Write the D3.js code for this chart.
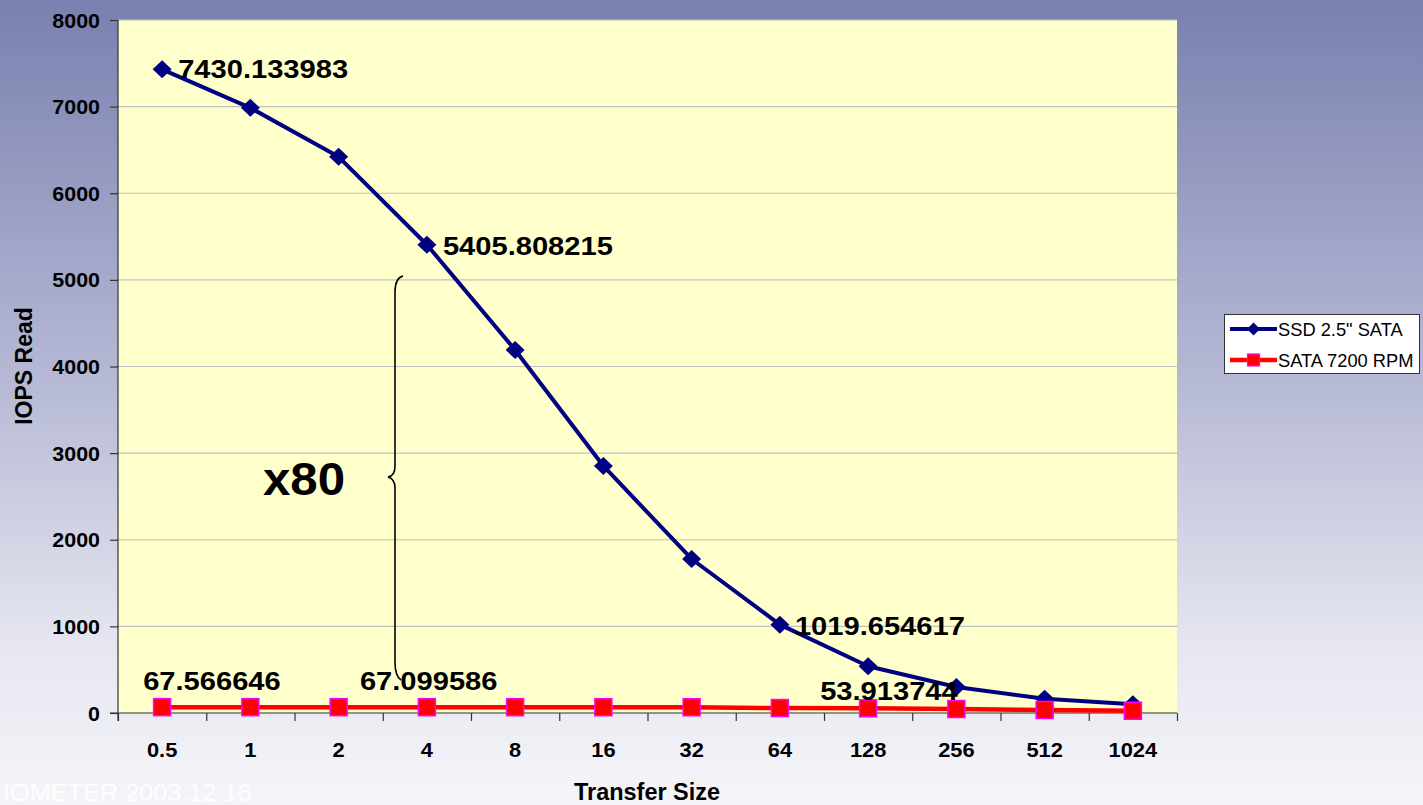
<!DOCTYPE html>
<html>
<head>
<meta charset="utf-8">
<script src="https://cdn.jsdelivr.net/npm/d3@7"></script>
<style>
  html, body { margin: 0; padding: 0; overflow: hidden; }
  svg { display: block; }
  text { font-family: "Liberation Sans", Arial, Helvetica, sans-serif; }
</style>
</head>
<body>
<svg id="chart" width="1423" height="805"></svg>
<script>
// Transfer sizes (KB) on the category axis
const categories = ["0.5", "1", "2", "4", "8", "16", "32", "64", "128", "256", "512", "1024"];

// IOPS read per transfer size
const ssdValues  = [7430.133983, 6986, 6420, 5405.808215, 4191, 2852, 1778, 1019.654617, 540, 300, 165, 100];
const sataValues = [67.566646, 67.4, 67.3, 67.099586, 67.0, 66.8, 66.4, 57, 53.913744, 46, 35, 26];

const seriesNames = ["SSD 2.5\" SATA", "SATA 7200 RPM"];
const yTicks = [0, 1000, 2000, 3000, 4000, 5000, 6000, 7000, 8000];

// Which points carry a value label, and where the label sits relative to the point
const labelSpecs = [
  { series: 0, index: 0, dx: 16, dy: 9 },
  { series: 0, index: 3, dx: 16, dy: 10 },
  { series: 0, index: 7, dx: 15, dy: 10 },
  { series: 1, index: 0, dx: -19, dy: -17 },
  { series: 1, index: 3, dx: -67, dy: -17 },
  { series: 1, index: 8, dx: -48, dy: -8 }
];

const W = 1423, H = 805;
const plot = { left: 118, right: 1177, top: 20, bottom: 713 };

const svg = d3.select("#chart");
const defs = svg.append("defs");

// slide background: blue-grey at the top fading to near white
const bg = defs.append("linearGradient").attr("id", "bg").attr("x1", 0).attr("y1", 0).attr("x2", 0).attr("y2", 1);
[["0", "#7a80af"], ["0.45", "#b3b6d3"], ["0.8", "#e5e6f0"], ["1", "#f5f5f9"]]
  .forEach(([o, c]) => bg.append("stop").attr("offset", o).attr("stop-color", c));
svg.append("rect").attr("width", W).attr("height", H).attr("fill", "url(#bg)");

// text that is slightly widened horizontally
function wideText(parent, x, y, str, size, sx, anchor, weight) {
  return parent.append("text")
    .attr("transform", `translate(${x},${y}) scale(${sx},1)`)
    .attr("text-anchor", anchor || "start")
    .attr("font-size", size)
    .attr("font-weight", weight || "bold")
    .attr("fill", "#000")
    .text(str);
}

const x = d3.scaleBand().domain(categories).range([plot.left, plot.right]).padding(0);
const xEdge = d3.scaleLinear().domain([0, categories.length]).range([plot.left, plot.right]);
const y = d3.scaleLinear().domain([0, 8000]).range([plot.bottom, plot.top]);
const cx = c => x(c) + x.bandwidth() / 2;

// plot area
svg.append("rect")
  .attr("x", plot.left).attr("y", plot.top)
  .attr("width", plot.right - plot.left).attr("height", plot.bottom - plot.top)
  .attr("fill", "#ffffcc");

// horizontal gridlines
svg.append("g").selectAll("line")
  .data(yTicks.filter(d => d > 0))
  .join("line")
  .attr("x1", plot.left).attr("x2", plot.right)
  .attr("y1", d => y(d)).attr("y2", d => y(d))
  .attr("stroke", "#c0c0c0").attr("stroke-width", 1.2);

// y axis
const yAxis = svg.append("g")
  .attr("transform", `translate(${plot.left},0)`)
  .call(d3.axisLeft(y).tickValues(yTicks).tickSize(8).tickSizeOuter(0).tickFormat(d3.format("d")));
yAxis.select(".domain").attr("stroke", "#333").attr("stroke-width", 1.2).attr("d", `M0,${plot.top}V${plot.bottom + 8}`);
yAxis.selectAll(".tick line").attr("stroke", "#333").attr("stroke-width", 1.2);
yAxis.selectAll(".tick text")
  .attr("x", -18 / 1.1).attr("dy", null).attr("y", 7)
  .attr("transform", "scale(1.1,1)")
  .attr("font-size", 19.5).attr("font-weight", "bold").attr("fill", "#000")
  .attr("font-family", "Liberation Sans, Arial, sans-serif");

// x axis: tick marks at category boundaries
const xTickAxis = svg.append("g")
  .attr("transform", `translate(0,${plot.bottom})`)
  .call(d3.axisBottom(xEdge).tickValues(d3.range(categories.length + 1)).tickSize(8).tickSizeOuter(0).tickFormat(""));
xTickAxis.select(".domain").attr("stroke", "#333").attr("stroke-width", 1.2).attr("d", `M${plot.left - 8},0H${plot.right}`);
xTickAxis.selectAll(".tick line").attr("stroke", "#333").attr("stroke-width", 1.2);

// x axis: category labels centred in each band
const xLabAxis = svg.append("g")
  .attr("transform", `translate(0,${plot.bottom})`)
  .call(d3.axisBottom(x).tickSize(0));
xLabAxis.select(".domain").remove();
xLabAxis.selectAll(".tick").attr("transform", d => `translate(${cx(d)},0)`);
xLabAxis.selectAll(".tick text")
  .attr("y", 44).attr("dy", null).attr("x", 0)
  .attr("transform", "scale(1.12,1)")
  .attr("font-size", 19.5).attr("font-weight", "bold").attr("fill", "#000")
  .attr("font-family", "Liberation Sans, Arial, sans-serif");

// axis titles
wideText(svg, 647, 800, "Transfer Size", 23, 1.02, "middle");
svg.append("text")
  .attr("transform", "translate(32,366) rotate(-90)")
  .attr("text-anchor", "middle")
  .attr("font-size", 23).attr("font-weight", "bold").attr("fill", "#000")
  .text("IOPS Read");

// series lines
const line = d3.line().x((d, i) => cx(categories[i])).y(d => y(d));
svg.append("path").datum(ssdValues).attr("d", line)
  .attr("fill", "none").attr("stroke", "#000080").attr("stroke-width", 4).attr("stroke-linejoin", "round");

const diamond = (hw, hh) => `M0,${-hh}L${hw},0L0,${hh}L${-hw},0Z`;
svg.append("g").selectAll("path")
  .data(ssdValues)
  .join("path")
  .attr("transform", (d, i) => `translate(${cx(categories[i])},${y(d)})`)
  .attr("d", diamond(9.5, 9))
  .attr("fill", "#000080");

svg.append("path").datum(sataValues).attr("d", line)
  .attr("fill", "none").attr("stroke", "#ff0000").attr("stroke-width", 4.5).attr("stroke-linejoin", "round");
svg.append("g").selectAll("rect")
  .data(sataValues)
  .join("rect")
  .attr("x", (d, i) => cx(categories[i]) - 8.5)
  .attr("y", d => y(d) - 8.5)
  .attr("width", 17).attr("height", 17)
  .attr("fill", "#ff0000").attr("stroke", "#ff00ff").attr("stroke-width", 1.5);

// value labels
const seriesValues = [ssdValues, sataValues];
labelSpecs.forEach(s => {
  const v = seriesValues[s.series][s.index];
  wideText(svg, cx(categories[s.index]) + s.dx, y(v) + s.dy, String(v), 26, 1.12, "start");
});

// brace spanning the gap between the two series
svg.append("path")
  .attr("d", "M403,276 Q395,278 395,292 L395,466 Q395,476 388,477 Q395,479 395,488 L395,662 Q395,676 401,680")
  .attr("fill", "none").attr("stroke", "#000").attr("stroke-width", 1.6);
wideText(svg, 263, 495, "x80", 46, 1.07, "start");

// legend
const lg = svg.append("g");
lg.append("rect").attr("x", 1224.5).attr("y", 314.5).attr("width", 195).attr("height", 59)
  .attr("fill", "#fff").attr("stroke", "#333").attr("stroke-width", 1);
const rows = [329, 360];
lg.append("line").attr("x1", 1230).attr("x2", 1277).attr("y1", rows[0]).attr("y2", rows[0])
  .attr("stroke", "#000080").attr("stroke-width", 4);
lg.append("path").attr("transform", `translate(1253.5,${rows[0]})`).attr("d", diamond(6.5, 6.5)).attr("fill", "#000080");
lg.append("line").attr("x1", 1230).attr("x2", 1277).attr("y1", rows[1]).attr("y2", rows[1])
  .attr("stroke", "#ff0000").attr("stroke-width", 4.5);
lg.append("rect").attr("x", 1247.5).attr("y", rows[1] - 6).attr("width", 12).attr("height", 12)
  .attr("fill", "#ff0000").attr("stroke", "#ff00ff").attr("stroke-width", 1.2);
seriesNames.forEach((n, i) => {
  lg.append("text").attr("x", 1278).attr("y", rows[i] + 6.5)
    .attr("font-size", 18.3).attr("fill", "#000").text(n);
});

// footer stamp
wideText(svg, 3, 801, "IOMETER 2003.12.16", 23, 1.1, "start", "normal").attr("fill", "#ffffff").attr("fill-opacity", 0.95);
</script>
</body>
</html>
